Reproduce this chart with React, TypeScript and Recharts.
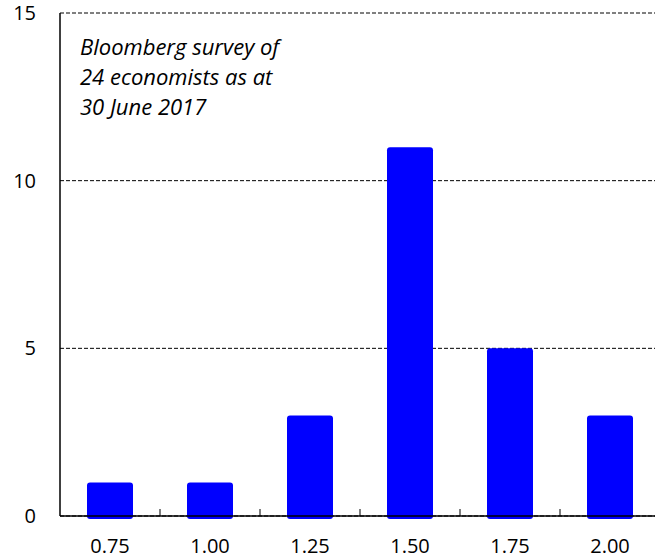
import { BarChart, Bar, XAxis, YAxis, CartesianGrid } from "recharts";

const rates = ["0.75", "1.00", "1.25", "1.50", "1.75", "2.00"];
const counts = [1, 1, 3, 11, 5, 3];
const yTicks = [0, 5, 10, 15];
const noteLines = ["Bloomberg survey of", "24 economists as at", "30 June 2017"];

const data = rates.map((rate, i) => ({ rate, count: counts[i] }));

const FONT = "'Open Sans', sans-serif";

// label under each category plus a short inside tick at the left band edge
const RateTick = (props: any) => {
  const { x, y, payload } = props;
  const edge = x - (payload.offset ?? 50);
  return (
    <g>
      {payload.index > 0 && (
        <line x1={edge} x2={edge} y1={y} y2={y - 7} stroke="#000" strokeWidth={1} />
      )}
      <text x={x} y={y + 37} textAnchor="middle" fontSize={20} fontFamily={FONT} fill="#000">
        {payload.value}
      </text>
    </g>
  );
};

// bars run a little below the axis and have soft corners
const RoundBar = (props: any) => {
  const { x, y, width, height } = props;
  return <rect x={x} y={y} width={width} height={height + 3} rx={3} ry={3} fill="#0000ff" />;
};

const App = () => {
  return (
    <div style={{ position: "absolute", left: 0, top: 0, width: 655, height: 559, overflow: "hidden", background: "#fff" }}>
      <BarChart
        width={660}
        height={559}
        data={data}
        margin={{ top: 13, right: 0, left: 0, bottom: 0 }}
        barCategoryGap={27}
      >
        <CartesianGrid vertical={false} stroke="#000" strokeDasharray="4 2" />
        <YAxis
          width={60}
          domain={[0, 15]}
          ticks={yTicks}
          tickLine={false}
          tickMargin={18}
          axisLine={{ stroke: "#000", strokeWidth: 1.5 }}
          tick={{ fill: "#000", fontSize: 20, fontFamily: FONT }}
        />
        <XAxis
          dataKey="rate"
          height={43}
          tickLine={false}
          tickSize={0}
          tickMargin={0}
          axisLine={{ stroke: "#000", strokeWidth: 1.5 }}
          tick={<RateTick />}
        />
        <Bar dataKey="count" shape={<RoundBar />} isAnimationActive={false} />
      </BarChart>
      <div
        style={{
          position: "absolute",
          left: 80,
          top: 31,
          fontFamily: FONT,
          fontStyle: "italic",
          fontSize: 22,
          lineHeight: "30px",
          color: "#000",
        }}
      >
        {noteLines.map((line) => (
          <div key={line}>{line}</div>
        ))}
      </div>
    </div>
  );
};

export default App;
